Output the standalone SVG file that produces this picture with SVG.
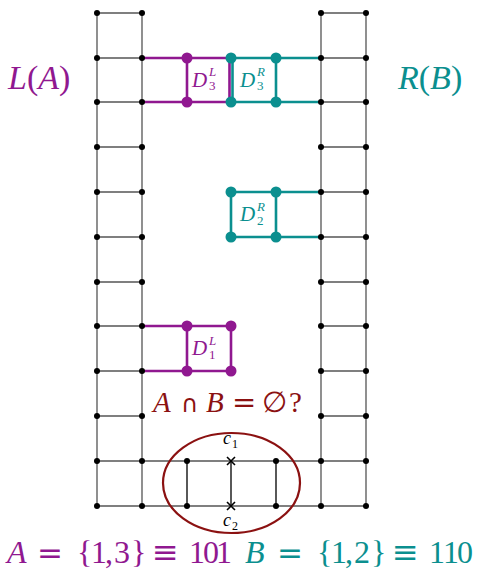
<svg xmlns="http://www.w3.org/2000/svg" width="477" height="574" viewBox="0 0 477 574">
<style>
.g{stroke:#555;stroke-width:1.3;fill:none}
.p{stroke:#901890;stroke-width:2.6;fill:none}
.t{stroke:#0b8f8f;stroke-width:2.6;fill:none}
.d{fill:#000}
.pd{fill:#901890}
.td{fill:#0b8f8f}
text{font-family:'Liberation Serif','DejaVu Serif',serif}
.i{font-style:italic}
.n{font-style:normal}
.s{font-family:'DejaVu Sans',sans-serif}
.pc{fill:#901890}
.tc{fill:#0b8f8f}
.rc{fill:#8b1111}
</style>
<rect width="477" height="574" fill="#fff"/>
<g id="connectors">
  <path class="g" d="M97,13V506M142,13V506M321,13V506M366,13V506"/>
  <path class="g" d="M97,13H142M97,58H142M97,102H142M97,147H142M97,192H142M97,237H142M97,282H142M97,326H142M97,371H142M97,416H142M97,461H142M97,506H142"/>
  <path class="g" d="M321,13H366M321,58H366M321,102H366M321,147H366M321,192H366M321,237H366M321,282H366M321,326H366M321,371H366M321,416H366M321,461H366M321,506H366"/>
  <path class="g" d="M142,461H321M142,506H321"/>
  <path stroke="#000" stroke-width="1.3" d="M187,461V506M276,461V506M231,461V506"/>
</g>
<g id="D3L">
  <path class="p" d="M142,58H229.5M142,102H229.5M187,58V102M229.5,58V102"/>
  <circle class="pd" cx="187" cy="58" r="5.5"/>
  <circle class="pd" cx="187" cy="102" r="5.5"/>
  <text class="i pc" x="192" y="86.5" font-size="21">D</text>
  <text class="i pc" x="209" y="76" font-size="13">L</text>
  <text class="pc" x="209" y="90" font-size="13">3</text>
</g>
<g id="D3R">
  <path class="t" d="M232.5,58H321M232.5,102H321M232.5,58V102M276,58V102"/>
  <circle class="td" cx="231" cy="58" r="5.5"/>
  <circle class="td" cx="231" cy="102" r="5.5"/>
  <circle class="td" cx="276" cy="58" r="5.5"/>
  <circle class="td" cx="276" cy="102" r="5.5"/>
  <text class="i tc" x="240" y="86.5" font-size="21">D</text>
  <text class="i tc" x="257" y="76" font-size="13">R</text>
  <text class="tc" x="257" y="90" font-size="13">3</text>
</g>
<g id="D2R">
  <path class="t" d="M231,192H321M231,237H321M231,192V237M276,192V237"/>
  <circle class="td" cx="231" cy="192" r="5.5"/>
  <circle class="td" cx="231" cy="237" r="5.5"/>
  <circle class="td" cx="276" cy="192" r="5.5"/>
  <circle class="td" cx="276" cy="237" r="5.5"/>
  <text class="i tc" x="240" y="221" font-size="21">D</text>
  <text class="i tc" x="257" y="210.5" font-size="13">R</text>
  <text class="tc" x="257" y="224.5" font-size="13">2</text>
</g>
<g id="D1L">
  <path class="p" d="M142,326H231M142,371H231M187,326V371M231,326V371"/>
  <circle class="pd" cx="187" cy="326" r="5.5"/>
  <circle class="pd" cx="187" cy="371" r="5.5"/>
  <circle class="pd" cx="231" cy="326" r="5.5"/>
  <circle class="pd" cx="231" cy="371" r="5.5"/>
  <text class="i pc" x="192" y="355" font-size="21">D</text>
  <text class="i pc" x="209" y="344.5" font-size="13">L</text>
  <text class="pc" x="209" y="358.5" font-size="13">1</text>
</g>
<g id="dots">
  <g class="d">
    <circle cx="97" cy="13" r="3"/><circle cx="142" cy="13" r="3"/>
    <circle cx="97" cy="58" r="3"/><circle cx="142" cy="58" r="3"/>
    <circle cx="97" cy="102" r="3"/><circle cx="142" cy="102" r="3"/>
    <circle cx="97" cy="147" r="3"/><circle cx="142" cy="147" r="3"/>
    <circle cx="97" cy="192" r="3"/><circle cx="142" cy="192" r="3"/>
    <circle cx="97" cy="237" r="3"/><circle cx="142" cy="237" r="3"/>
    <circle cx="97" cy="282" r="3"/><circle cx="142" cy="282" r="3"/>
    <circle cx="97" cy="326" r="3"/><circle cx="142" cy="326" r="3"/>
    <circle cx="97" cy="371" r="3"/><circle cx="142" cy="371" r="3"/>
    <circle cx="97" cy="416" r="3"/><circle cx="142" cy="416" r="3"/>
    <circle cx="97" cy="461" r="3"/><circle cx="142" cy="461" r="3"/>
    <circle cx="97" cy="506" r="3"/><circle cx="142" cy="506" r="3"/>
    <circle cx="321" cy="13" r="3"/><circle cx="366" cy="13" r="3"/>
    <circle cx="321" cy="58" r="3"/><circle cx="366" cy="58" r="3"/>
    <circle cx="321" cy="102" r="3"/><circle cx="366" cy="102" r="3"/>
    <circle cx="321" cy="147" r="3"/><circle cx="366" cy="147" r="3"/>
    <circle cx="321" cy="192" r="3"/><circle cx="366" cy="192" r="3"/>
    <circle cx="321" cy="237" r="3"/><circle cx="366" cy="237" r="3"/>
    <circle cx="321" cy="282" r="3"/><circle cx="366" cy="282" r="3"/>
    <circle cx="321" cy="326" r="3"/><circle cx="366" cy="326" r="3"/>
    <circle cx="321" cy="371" r="3"/><circle cx="366" cy="371" r="3"/>
    <circle cx="321" cy="416" r="3"/><circle cx="366" cy="416" r="3"/>
    <circle cx="321" cy="461" r="3"/><circle cx="366" cy="461" r="3"/>
    <circle cx="321" cy="506" r="3"/><circle cx="366" cy="506" r="3"/>
    <circle cx="187" cy="461" r="3"/><circle cx="187" cy="506" r="3"/>
    <circle cx="276" cy="461" r="3"/><circle cx="276" cy="506" r="3"/>
  </g>
</g>
<g id="crossing">
  <path stroke="#000" stroke-width="1.6" d="M227,457L235,465M235,457L227,465M227,502L235,510M235,502L227,510"/>
  <text class="i" x="223" y="444" font-size="18">c</text>
  <text x="232" y="448" font-size="12">1</text>
  <text class="i" x="223" y="526" font-size="18">c</text>
  <text x="232" y="530" font-size="12">2</text>
  <ellipse cx="231.5" cy="483" rx="68.5" ry="50" fill="none" stroke="#8b1111" stroke-width="2.2"/>
</g>
<g id="labels">
  <text class="i pc" x="8" y="89" font-size="34">L<tspan class="n">(</tspan>A<tspan class="n">)</tspan></text>
  <text class="i tc" x="398" y="89" font-size="34">R<tspan class="n">(</tspan>B<tspan class="n">)</tspan></text>
  <text class="rc" y="412" font-size="29"><tspan class="i" x="153">A</tspan><tspan class="s" x="181" font-size="24">∩</tspan><tspan class="i" x="206">B</tspan><tspan class="s" x="232" font-size="29">=</tspan><tspan x="262">∅</tspan><tspan x="289">?</tspan></text>
  <text class="pc" y="563" font-size="32"><tspan class="i" x="7">A</tspan><tspan class="s" x="37" font-size="31">=</tspan><tspan x="77 91 105 114 131">{1,3}</tspan><tspan class="s" x="152" font-size="32">≡</tspan><tspan x="189 203 216">101</tspan></text>
  <text class="tc" y="563" font-size="32"><tspan class="i" x="245">B</tspan><tspan class="s" x="277" font-size="31">=</tspan><tspan x="317 331 345 354 371">{1,2}</tspan><tspan class="s" x="392" font-size="32">≡</tspan><tspan x="429 443 457">110</tspan></text>
</g>
</svg>
